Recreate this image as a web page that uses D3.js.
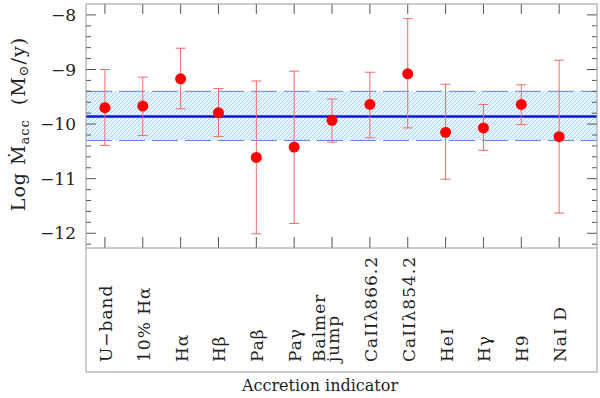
<!DOCTYPE html>
<html>
<head>
<meta charset="utf-8">
<script src="https://cdn.jsdelivr.net/npm/d3@7"></script>
<style>
  body { margin: 0; background: #fff; }
  svg { font-family: "DejaVu Serif", serif; }
</style>
</head>
<body>
<svg id="chart" width="600" height="398"></svg>
<script>
// accretion indicators along the x axis
const indicators = ['U\u2212band', '10% H\u03b1', 'H\u03b1', 'H\u03b2', 'Pa\u03b2', 'Pa\u03b3',
    ['Balmer', 'jump'], 'CaII\u03bb866.2', 'CaII\u03bb854.2', 'HeI', 'H\u03b3', 'H9', 'NaI D'];
const logMacc = [-9.70, -9.67, -9.17, -9.79, -10.61, -10.42, -9.93, -9.64, -9.08, -10.15, -10.07, -9.64, -10.23];
const errTop = [-9.00, -9.14, -8.61, -9.35, -9.21, -9.03, -9.54, -9.05, -8.07, -9.27, -9.64, -9.28, -8.83];
const errBottom = [-10.39, -10.21, -9.72, -10.23, -12.01, -11.82, -10.33, -10.25, -10.07, -11.01, -10.48, -10.01, -11.63];
const meanValue = -9.86;
const bandRange = [-10.30, -9.40];
const yTicks = [-12, -11, -10, -9, -8];

const svg = d3.select('#chart');
const mLeft = 86, mRight = 597, mTop = 4, mMid = 248, mBottom = 372;

const x = d3.scaleLinear().domain([-0.5, 13]).range([mLeft, mRight]);
const y = d3.scaleLinear().domain([-12.27, -7.8]).range([mMid, mTop]);

// hatch pattern for the band
const defs = svg.append('defs');
const pat = defs.append('pattern')
    .attr('id', 'hatch')
    .attr('patternUnits', 'userSpaceOnUse')
    .attr('width', 4).attr('height', 4);
pat.append('rect').attr('width', 4).attr('height', 4).attr('fill', '#e9f6fd');
pat.append('path')
    .attr('d', 'M-1,1 l2,-2 M0,4 l4,-4 M3,5 l2,-2')
    .attr('stroke', '#a3d4f2').attr('stroke-width', 1);

defs.append('clipPath').attr('id', 'plotclip')
    .append('rect').attr('x', mLeft).attr('y', mTop).attr('width', mRight - mLeft).attr('height', mMid - mTop);

const plot = svg.append('g').attr('clip-path', 'url(#plotclip)');

plot.append('rect')
    .attr('x', mLeft).attr('width', mRight - mLeft)
    .attr('y', y(bandRange[1])).attr('height', y(bandRange[0]) - y(bandRange[1]))
    .attr('fill', 'url(#hatch)');

plot.selectAll('.band-edge')
    .data(bandRange)
    .enter().append('line')
    .attr('class', 'band-edge')
    .attr('x1', mLeft).attr('x2', mRight)
    .attr('y1', d => y(d)).attr('y2', d => y(d))
    .attr('stroke', '#6483e8').attr('stroke-width', 1)
    .attr('stroke-dasharray', '26,7');

plot.append('line')
    .attr('x1', mLeft).attr('x2', mRight)
    .attr('y1', y(meanValue)).attr('y2', y(meanValue))
    .attr('stroke', '#0a1ccc').attr('stroke-width', 2.5);

// error bars
const errColor = '#f06a6a';
const bars = plot.selectAll('.err')
    .data(logMacc)
    .enter().append('g')
    .attr('class', 'err');

bars.append('line')
    .attr('x1', (d, i) => x(i)).attr('x2', (d, i) => x(i))
    .attr('y1', (d, i) => y(errTop[i])).attr('y2', (d, i) => y(errBottom[i]))
    .attr('stroke', errColor).attr('stroke-width', 1);

bars.append('line')
    .attr('x1', (d, i) => x(i) - 5).attr('x2', (d, i) => x(i) + 5)
    .attr('y1', (d, i) => y(errTop[i])).attr('y2', (d, i) => y(errTop[i]))
    .attr('stroke', errColor).attr('stroke-width', 1);

bars.append('line')
    .attr('x1', (d, i) => x(i) - 5).attr('x2', (d, i) => x(i) + 5)
    .attr('y1', (d, i) => y(errBottom[i])).attr('y2', (d, i) => y(errBottom[i]))
    .attr('stroke', errColor).attr('stroke-width', 1);

bars.append('circle')
    .attr('cx', (d, i) => x(i))
    .attr('cy', d => y(d))
    .attr('r', 5.5)
    .attr('fill', '#ff0000');

// ticks
const tickColor = '#555';
const minor = d3.range(-12.2, -7.8, 0.2).map(v => Math.round(v * 10) / 10)
    .filter(v => !yTicks.includes(v));

const axisG = svg.append('g').attr('stroke', tickColor).attr('stroke-width', 1);

yTicks.forEach(v => {
    axisG.append('line').attr('x1', mLeft).attr('x2', mLeft + 10).attr('y1', y(v)).attr('y2', y(v));
    axisG.append('line').attr('x1', mRight - 10).attr('x2', mRight).attr('y1', y(v)).attr('y2', y(v));
});
minor.forEach(v => {
    axisG.append('line').attr('x1', mLeft).attr('x2', mLeft + 5).attr('y1', y(v)).attr('y2', y(v));
    axisG.append('line').attr('x1', mRight - 5).attr('x2', mRight).attr('y1', y(v)).attr('y2', y(v));
});
indicators.forEach((d, i) => {
    axisG.append('line').attr('x1', x(i)).attr('x2', x(i)).attr('y1', mTop).attr('y2', mTop + 10);
    axisG.append('line').attr('x1', x(i)).attr('x2', x(i)).attr('y1', mMid - 11).attr('y2', mMid);
});

// frame
svg.append('rect')
    .attr('x', mLeft).attr('y', mTop).attr('width', mRight - mLeft).attr('height', mBottom - mTop)
    .attr('fill', 'none').attr('stroke', '#999').attr('stroke-width', 1);
svg.append('line')
    .attr('x1', mLeft).attr('x2', mRight).attr('y1', mMid).attr('y2', mMid)
    .attr('stroke', '#999').attr('stroke-width', 1);

// y tick labels
svg.selectAll('.ylab')
    .data(yTicks)
    .enter().append('text')
    .attr('x', 76).attr('y', d => y(d) + 6)
    .attr('text-anchor', 'end')
    .attr('font-size', 17)
    .attr('fill', '#222')
    .text(d => '\u2212' + Math.abs(d));

// y axis title
const yt = svg.append('text')
    .attr('transform', 'translate(25,124) rotate(-90)')
    .attr('text-anchor', 'middle')
    .attr('font-size', 19)
    .attr('letter-spacing', 1)
    .attr('fill', '#222');
yt.append('tspan').text('Log \u1e40');
yt.append('tspan').attr('font-size', 13).attr('dy', 4).text('acc');
yt.append('tspan').attr('dy', -4).attr('dx', 14).text('(M');
yt.append('tspan').attr('font-size', 13).attr('dy', 3).text('\u2299');
yt.append('tspan').attr('dy', -3).text('/y)');

// category labels
const labels = svg.selectAll('.cat')
    .data(indicators)
    .enter().append('text')
    .attr('class', 'cat')
    .attr('font-size', 17)
    .attr('letter-spacing', 1)
    .attr('fill', '#222')
    .attr('transform', (d, i) => 'translate(' + (x(i) + 7) + ',362) rotate(-90)');

labels.each(function(d) {
    const t = d3.select(this);
    if (Array.isArray(d)) {
        t.append('tspan').attr('x', 0).attr('y', -14).text(d[0]);
        t.append('tspan').attr('x', 0).attr('y', 0).text(d[1]);
    } else {
        t.text(d);
    }
});

svg.append('text')
    .attr('x', 320).attr('y', 391)
    .attr('text-anchor', 'middle')
    .attr('font-size', 16)
    .attr('fill', '#222')
    .text('Accretion indicator');
</script>
</body>
</html>
